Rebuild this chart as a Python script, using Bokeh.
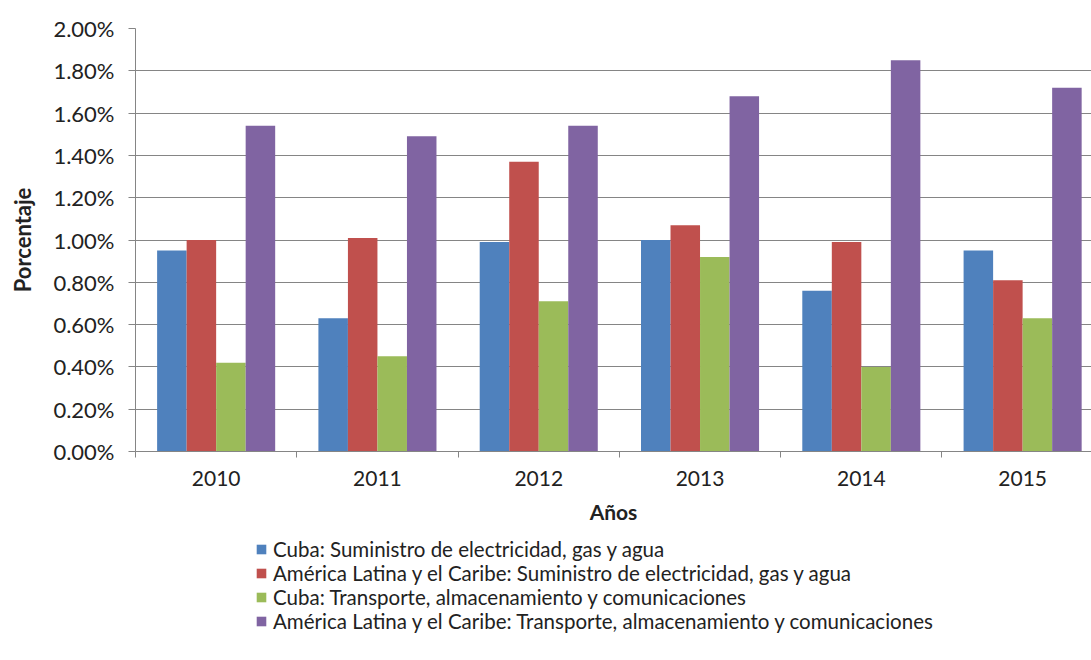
from bokeh.plotting import figure
from bokeh.layouts import column
from bokeh.models import (ColumnDataSource, Range1d, FixedTicker, PrintfTickFormatter,
                          Legend, LegendItem)
from bokeh.transform import dodge
from bokeh.embed import file_html
from bokeh.resources import INLINE

years = ["2010", "2011", "2012", "2013", "2014", "2015"]
cuba_elec = [0.95, 0.63, 0.99, 1.00, 0.76, 0.95]
alc_elec = [1.00, 1.01, 1.37, 1.07, 0.99, 0.81]
cuba_trans = [0.42, 0.45, 0.71, 0.92, 0.40, 0.63]
alc_trans = [1.54, 1.49, 1.54, 1.68, 1.85, 1.72]
series_names = [
    "Cuba: Suministro de electricidad, gas y agua",
    "América Latina y el Caribe: Suministro de electricidad, gas y agua",
    "Cuba: Transporte, almacenamiento y comunicaciones",
    "América Latina y el Caribe: Transporte, almacenamiento y comunicaciones",
]
y_ticks = [0.0, 0.2, 0.4, 0.6, 0.8, 1.0, 1.2, 1.4, 1.6, 1.8, 2.0]

colors = ["#4F81BD", "#C0504D", "#9BBB59", "#8064A2"]
offsets = [-0.2745, -0.0915, 0.0915, 0.2745]
bar_w = 0.183
FONT = "Lato"
GRID = "#858585"
TXT = "#222222"

src = ColumnDataSource(dict(x=list(range(len(years))), s0=cuba_elec, s1=alc_elec,
                            s2=cuba_trans, s3=alc_trans))

p = figure(frame_width=956, frame_height=423, output_backend="svg", toolbar_location=None,
           x_range=Range1d(-0.5, 5.427), y_range=Range1d(0, 2.0),
           min_border_left=135, min_border_right=0, min_border_top=28,
           min_border_bottom=86, outline_line_color=None)

for i in range(4):
    p.vbar(x=dodge("x", offsets[i]), top="s%d" % i, width=bar_w, source=src,
           fill_color=colors[i], line_color=None)

# x axis
p.xaxis.ticker = FixedTicker(ticks=list(range(len(years))),
                             minor_ticks=[i - 0.5 for i in range(len(years) + 1)])
p.xaxis.major_label_overrides = {i: y for i, y in enumerate(years)}
p.xaxis.major_tick_line_color = None
p.xaxis.major_tick_out = 0
p.xaxis.major_tick_in = 0
p.xaxis.minor_tick_line_color = GRID
p.xaxis.minor_tick_out = 6
p.xaxis.minor_tick_in = 0
p.xaxis.axis_line_color = GRID
p.xaxis.major_label_text_font = FONT
p.xaxis.major_label_text_font_size = "21px"
p.xaxis.major_label_text_color = TXT
p.xaxis.major_label_standoff = 13
p.xaxis.axis_label = "Años"
p.xaxis.axis_label_text_font = FONT
p.xaxis.axis_label_text_font_size = "21px"
p.xaxis.axis_label_text_font_style = "bold"
p.xaxis.axis_label_text_color = TXT
p.xaxis.axis_label_standoff = 10
p.xgrid.grid_line_color = None

# y axis
p.yaxis.ticker = FixedTicker(ticks=y_ticks)
p.yaxis.formatter = PrintfTickFormatter(format="%.2f%%")
p.yaxis.major_tick_line_color = GRID
p.yaxis.major_tick_out = 7
p.yaxis.major_tick_in = 0
p.yaxis.minor_tick_line_color = None
p.yaxis.axis_line_color = GRID
p.yaxis.major_label_text_font = FONT
p.yaxis.major_label_text_font_size = "22px"
p.yaxis.major_label_text_color = TXT
p.yaxis.major_label_standoff = 14
p.yaxis.axis_label = "Porcentaje"
p.yaxis.axis_label_text_font = FONT
p.yaxis.axis_label_text_font_size = "22px"
p.yaxis.axis_label_text_font_style = "bold"
p.yaxis.axis_label_text_color = TXT
p.yaxis.axis_label_standoff = 14
p.ygrid.grid_line_color = GRID
p.ygrid.grid_line_width = 1

# legend panel: same series drawn off-view so that only the legend shows
pl = figure(width=1091, height=123, output_backend="svg", toolbar_location=None,
            x_range=Range1d(100, 101), y_range=Range1d(100, 101),
            x_axis_location=None, y_axis_location=None,
            min_border=0, outline_line_color=None)
pl.grid.visible = False
items = []
for i in range(4):
    r = pl.vbar(x=dodge("x", offsets[i]), top="s%d" % i, width=bar_w, source=src,
                fill_color=colors[i], line_color=None)
    items.append(LegendItem(label=series_names[i], renderers=[r]))

legend = Legend(items=items, location=(120, 27), orientation="vertical",
                label_text_font=FONT, label_text_font_size="20.5px",
                label_text_color=TXT, glyph_width=12, glyph_height=12,
                label_standoff=6, label_height=24, spacing=0,
                border_line_color=None, background_fill_alpha=0,
                padding=0, margin=0)
pl.add_layout(legend, "center")

layout = column(p, pl, spacing=0)
open("out.html", "w").write(file_html(layout, INLINE))
